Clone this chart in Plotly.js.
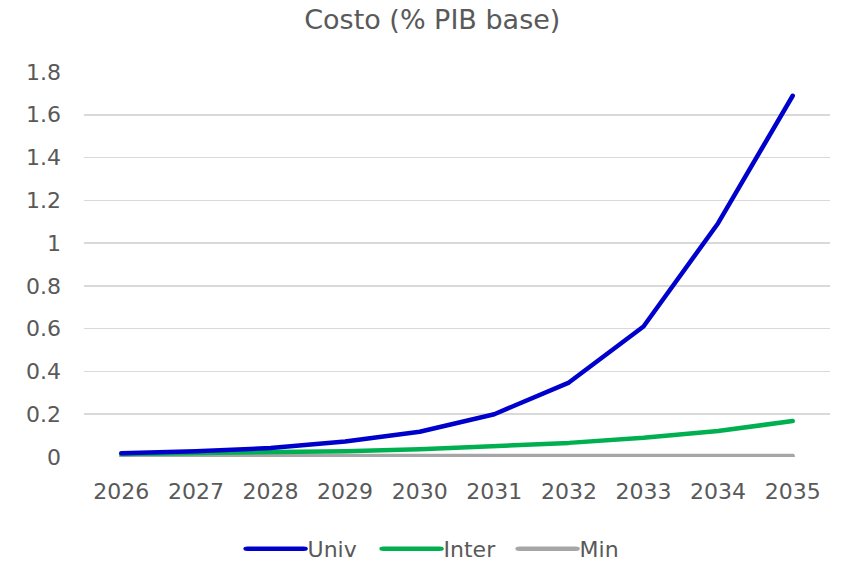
<!DOCTYPE html>
<html><head><meta charset="utf-8">
<script src="https://cdn.plot.ly/plotly-3.0.1.min.js"></script>
<style>html,body{margin:0;padding:0;background:#fff}#c{width:851px;height:566px}
.js-line,.scatterlayer path{stroke-linecap:round;stroke-linejoin:round}
.legend .scrollbox{clip-path:none !important}
.legendlines path{stroke-linecap:round;transform:translateX(-29.3px) scaleX(1.867)}</style>
</head><body><div id="c"></div>
<script>
const years = ["2026","2027","2028","2029","2030","2031","2032","2033","2034","2035"];
const univ = [0.018, 0.027, 0.042, 0.072, 0.118, 0.2, 0.348, 0.61, 1.093, 1.689];
const inter = [0.014, 0.017, 0.021, 0.027, 0.036, 0.049, 0.066, 0.09, 0.122, 0.168];
const minv = [0.005, 0.005, 0.005, 0.005, 0.005, 0.005, 0.005, 0.005, 0.005, 0.005];
const names = ["Univ", "Inter", "Min"];
const colors = ["#0000CC", "#00B050", "#A6A6A6"];
const series = [univ, inter, minv];
const traces = series.map((s, i) => ({
  x: years, y: s, name: names[i], type: "scatter", mode: "lines",
  line: {color: colors[i], width: 4.5}
})).reverse();
const font = "'DejaVu Sans', sans-serif";
Plotly.newPlot("c", traces, {
  width: 851, height: 566,
  margin: {l: 84, r: 21, t: 72, b: 108.5},
  paper_bgcolor: "#fff", plot_bgcolor: "#fff",
  font: {family: font, color: "#595959", size: 22},
  title: {text: "Costo (% PIB base)", x: 0.508, xanchor: "center", y: 0.965, yanchor: "middle", font: {size: 27, color: "#595959", family: font}},
  xaxis: {type: "category", range: [-0.5, 9.5], automargin: false, showgrid: false, zeroline: false, showline: false, ticks: "", tickfont: {size: 22}, ticklabelstandoff: 19},
  yaxis: {range: [0, 1.8], dtick: 0.2, tickformat: "~g", automargin: false, showgrid: true, gridcolor: "#D9D9D9", gridwidth: 1.5, zeroline: false, showline: false, ticks: "", tickfont: {size: 22}, ticklabelstandoff: 22},
  legend: {orientation: "h", xref: "container", yref: "container", x: 0.3144, xanchor: "left", y: 0.03, yanchor: "middle", traceorder: "reversed", font: {size: 22}, entrywidth: 91, entrywidthmode: "pixels"},
  showlegend: true
}, {staticPlot: true});
</script></body></html>
